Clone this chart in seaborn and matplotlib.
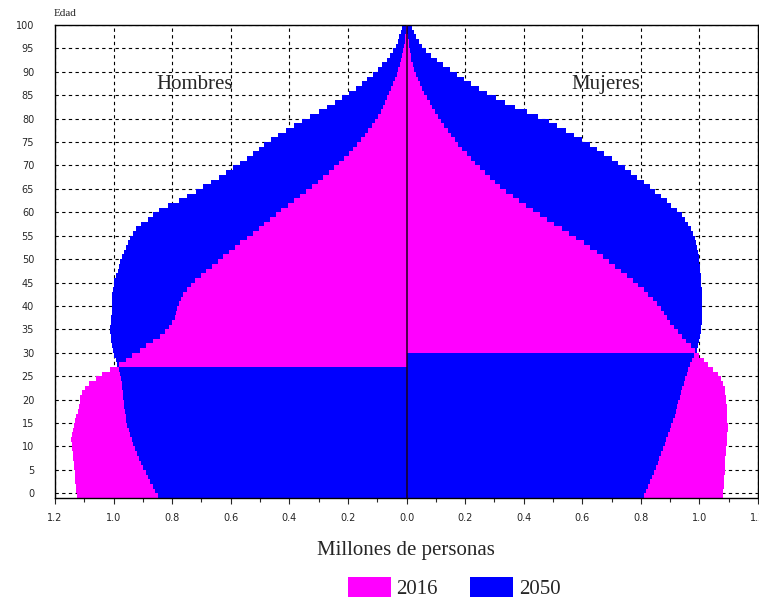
import numpy as np
import pandas as pd
import matplotlib
matplotlib.use("Agg")
import matplotlib.pyplot as plt
from matplotlib.patches import Patch
from matplotlib.ticker import MultipleLocator, FuncFormatter
import seaborn as sns

# ---------------- data (millions of persons, by single age 0..100) ----------------
edad = list(range(101))

hombres_2016 = [
    1.125, 1.127, 1.130, 1.131, 1.132, 1.133, 1.134, 1.136, 1.139, 1.140,
    1.142, 1.143, 1.144, 1.143, 1.139, 1.136, 1.133, 1.127, 1.123, 1.118,
    1.116, 1.114, 1.107, 1.099, 1.084, 1.061, 1.038, 1.013, 0.982, 0.958,
    0.938, 0.911, 0.889, 0.866, 0.843, 0.826, 0.811, 0.800, 0.792, 0.787,
    0.784, 0.777, 0.771, 0.762, 0.750, 0.737, 0.722, 0.703, 0.684, 0.664,
    0.644, 0.625, 0.605, 0.587, 0.569, 0.545, 0.523, 0.505, 0.485, 0.465,
    0.446, 0.428, 0.405, 0.384, 0.362, 0.342, 0.323, 0.303, 0.284, 0.266,
    0.247, 0.229, 0.212, 0.196, 0.182, 0.168, 0.155, 0.143, 0.131, 0.119,
    0.108, 0.098, 0.088, 0.079, 0.072, 0.066, 0.059, 0.052, 0.046, 0.040,
    0.034, 0.028, 0.023, 0.018, 0.014, 0.011, 0.008, 0.006, 0.004, 0.003,
    0.002,
]

hombres_2050 = [
    0.848, 0.857, 0.866, 0.875, 0.883, 0.891, 0.898, 0.906, 0.914, 0.920,
    0.927, 0.934, 0.938, 0.943, 0.948, 0.953, 0.957, 0.959, 0.961, 0.963,
    0.966, 0.968, 0.969, 0.970, 0.972, 0.974, 0.977, 0.982, 0.988, 0.993,
    0.998, 1.002, 1.006, 1.008, 1.010, 1.011, 1.011, 1.010, 1.008, 1.007,
    1.006, 1.006, 1.005, 1.004, 1.002, 1.000, 0.997, 0.991, 0.985, 0.982,
    0.977, 0.972, 0.966, 0.959, 0.952, 0.945, 0.935, 0.922, 0.905, 0.884,
    0.865, 0.845, 0.815, 0.778, 0.750, 0.720, 0.695, 0.668, 0.640, 0.615,
    0.592, 0.568, 0.546, 0.524, 0.505, 0.485, 0.462, 0.438, 0.412, 0.385,
    0.357, 0.328, 0.300, 0.272, 0.245, 0.220, 0.196, 0.174, 0.153, 0.134,
    0.116, 0.099, 0.083, 0.068, 0.055, 0.045, 0.037, 0.030, 0.024, 0.018,
    0.014,
]

mujeres_2016 = [
    1.082, 1.082, 1.083, 1.084, 1.085, 1.086, 1.087, 1.088, 1.089, 1.090,
    1.092, 1.093, 1.094, 1.095, 1.096, 1.096, 1.095, 1.095, 1.094, 1.093,
    1.092, 1.091, 1.089, 1.086, 1.082, 1.074, 1.062, 1.045, 1.028, 1.014,
    1.000, 0.985, 0.972, 0.955, 0.940, 0.926, 0.912, 0.900, 0.890, 0.880,
    0.868, 0.856, 0.842, 0.826, 0.810, 0.792, 0.773, 0.753, 0.733, 0.712,
    0.690, 0.670, 0.650, 0.628, 0.605, 0.580, 0.555, 0.530, 0.505, 0.480,
    0.457, 0.432, 0.408, 0.385, 0.362, 0.340, 0.320, 0.302, 0.285, 0.268,
    0.250, 0.234, 0.219, 0.205, 0.190, 0.177, 0.164, 0.152, 0.140, 0.128,
    0.117, 0.106, 0.097, 0.088, 0.079, 0.069, 0.060, 0.052, 0.045, 0.038,
    0.032, 0.026, 0.021, 0.017, 0.014, 0.011, 0.009, 0.007, 0.005, 0.003,
    0.001,
]

mujeres_2050 = [
    0.812, 0.819, 0.826, 0.833, 0.839, 0.846, 0.852, 0.858, 0.863, 0.869,
    0.875, 0.881, 0.886, 0.892, 0.898, 0.903, 0.909, 0.915, 0.919, 0.924,
    0.928, 0.933, 0.937, 0.942, 0.946, 0.951, 0.957, 0.961, 0.968, 0.974,
    0.983, 0.991, 0.996, 1.000, 1.003, 1.005, 1.006, 1.008, 1.009, 1.009,
    1.010, 1.010, 1.010, 1.009, 1.008, 1.007, 1.006, 1.004, 1.002, 1.001,
    1.000, 0.998, 0.996, 0.993, 0.989, 0.984, 0.978, 0.970, 0.962, 0.952,
    0.940, 0.922, 0.904, 0.888, 0.870, 0.850, 0.830, 0.810, 0.788, 0.768,
    0.745, 0.722, 0.700, 0.675, 0.650, 0.625, 0.600, 0.572, 0.545, 0.515,
    0.485, 0.450, 0.410, 0.370, 0.335, 0.305, 0.275, 0.248, 0.220, 0.195,
    0.172, 0.150, 0.126, 0.104, 0.085, 0.067, 0.052, 0.041, 0.032, 0.025,
    0.020,
]

anios = ["2016", "2050"]
colores = {"2016": "#FF00FF", "2050": "#0000FF"}
y_ticks = list(range(0, 101, 5))

# ---------------- figure ----------------
sns.set_style("white")
plt.rcParams["font.family"] = ["DejaVu Sans"]
serif = ["Liberation Serif", "DejaVu Serif"]

W, H = 759, 599
fig = plt.figure(figsize=(W / 100, H / 100), dpi=100)
ax = fig.add_axes([55 / W, 1 - 498 / H, 703 / W, 473 / H])

df = pd.DataFrame({
    "edad": edad,
    "h16": hombres_2016, "h50": hombres_2050,
    "m16": mujeres_2016, "m50": mujeres_2050,
})
# each bar covers the interval [edad-1, edad]
df["pos"] = df["edad"] - 0.5

bar_kw = dict(orient="y", native_scale=True, width=1, linewidth=0,
              edgecolor="none", errorbar=None, antialiased=False, ax=ax)

for c16, c50, sign in (("h16", "h50", -1), ("m16", "m50", 1)):
    v16 = df[c16].to_numpy()
    v50 = df[c50].to_numpy()
    back16 = np.where(v16 > v50, v16, 0.0) * sign
    front16 = np.where(v16 <= v50, v16, 0.0) * sign
    # larger value behind, smaller value in front
    sns.barplot(x=back16, y=df["pos"], color=colores["2016"], saturation=1, **bar_kw)
    sns.barplot(x=v50 * sign, y=df["pos"], color=colores["2050"], saturation=1, **bar_kw)
    sns.barplot(x=front16, y=df["pos"], color=colores["2016"], saturation=1, **bar_kw)

ax.set_xlim(-1.2, 1.2)
ax.set_ylim(-1, 100)
ax.set_yticks(y_ticks)
ax.set_yticklabels([str(t) for t in y_ticks])
ax.xaxis.set_major_locator(MultipleLocator(0.2))
ax.xaxis.set_minor_locator(MultipleLocator(0.1))
ax.xaxis.set_major_formatter(FuncFormatter(lambda v, p: f"{abs(v):.1f}"))
ax.set_xlabel("")
ax.set_ylabel("")

ax.set_axisbelow(True)
ax.grid(True, which="major", color="black", linestyle=(0, (3, 3)), linewidth=0.8)
ax.axvline(0, color="#1a001a", linewidth=1.1, zorder=6)

for s in ax.spines.values():
    s.set_visible(True)
    s.set_color("black")
    s.set_linewidth(1.0)

ax.tick_params(axis="y", length=0, pad=15, labelsize=7)
ax.tick_params(axis="x", which="major", direction="out", length=4, width=0.8,
               pad=6.5, labelsize=7, bottom=True)
ax.tick_params(axis="x", which="minor", direction="out", length=3, width=0.8,
               bottom=True)

ax.text(-0.725, 87.2, "Hombres", ha="center", va="center", fontsize=15, family=serif)
ax.text(0.679, 87.4, "Mujeres", ha="center", va="center", fontsize=15, family=serif)

fig.text(54 / W, 1 - 13.5 / H, "Edad", ha="left", va="center", fontsize=8, family=serif)
fig.text(406 / W, 1 - 551 / H, "Millones de personas", ha="center", va="center",
         fontsize=15, family=serif)

handles = [Patch(facecolor=colores[a], edgecolor="none") for a in anios]
fig.legend(handles, anios, loc="center left", bbox_to_anchor=(348 / W, 1 - 588 / H),
           ncol=2, frameon=False, prop={"family": serif, "size": 15},
           handlelength=2.05, handleheight=1.1, handletextpad=0.28,
           columnspacing=1.55, borderpad=0, borderaxespad=0)

fig.savefig("out.png", dpi=100)
